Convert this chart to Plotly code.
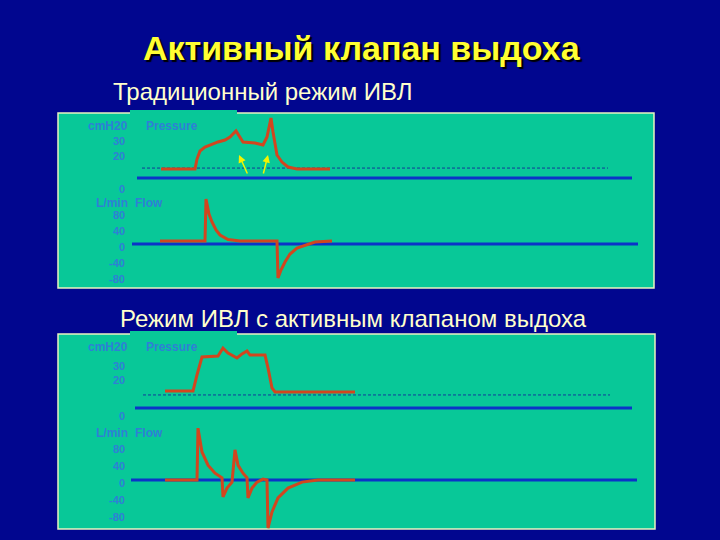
import plotly.graph_objects as go

W, H = 720, 540

# ---------------- data ----------------
# Panel 1: conventional ventilation
p1_t = [3.0, 6.4, 6.6, 6.9, 7.4, 8.1, 8.7, 9.4, 9.9, 10.5, 10.9, 11.2, 12.4, 13.2, 13.6, 14.0, 14.2, 14.6, 15.1, 15.7, 16.6, 19.9]
p1_v = [10.7, 10.7, 17.3, 22.7, 25.3, 27.3, 28.7, 30.0, 32.0, 36.0, 32.0, 28.7, 28.0, 26.7, 32.0, 44.7, 35.3, 20.0, 15.3, 12.0, 10.7, 10.7]
f1_t = [2.9, 7.4, 7.5, 7.8, 8.1, 8.5, 8.9, 9.7, 10.9, 14.6, 14.7, 15.0, 15.4, 15.9, 16.6, 17.4, 18.4, 20.1]
f1_v = [7.5, 7.5, 112.5, 75, 55, 35, 22.5, 11, 7.5, 7.5, -85, -65, -45, -25, -10, -2.5, 5, 7.5]

# Panel 2: ventilation with active exhalation valve
p2_t = [3.4, 6.2, 6.6, 7.1, 8.7, 9.2, 9.7, 10.6, 11.1, 11.6, 11.9, 12.4, 13.4, 13.7, 14.1, 14.4, 22.4]
p2_v = [11.4, 11.4, 22.9, 35.7, 36.4, 42.1, 38.6, 35.0, 37.9, 40.0, 37.1, 37.1, 37.1, 27.9, 13.6, 10.7, 10.7]
f2_t = [3.4, 6.6, 6.7, 7.1, 7.7, 8.4, 9.1, 9.2, 9.6, 10.1, 10.4, 10.7, 11.2, 11.6, 11.7, 12.1, 12.6, 13.2, 13.6, 13.7, 14.1, 14.7, 15.7, 17.1, 18.7, 22.4]
f2_v = [0, 0, 122, 66, 35, 16, 5, -40, -19, -5, 71, 35, 16, 5, -42, -19, -5, 2, 0, -113, -75, -42, -19, -5, 0, 0]

# reference lines (t-range, level)
p1_base_t, p1_base_v = [0.6, 50.1], 4.7
p1_dash_t, p1_dash_v = [1.1, 47.7], 11.3
f1_base_t, f1_base_v = [0.1, 50.7], 0
p2_base_t, p2_base_v = [0.4, 50.1], -0.7
p2_dash_t, p2_dash_v = [1.2, 47.9], 8.6
f2_base_t, f2_base_v = [0.0, 50.6], 0

# tick labels
p_ticks = [30, 20, 0]
f_ticks = [80, 40, 0, -40, -80]

title = "Активный клапан выдоха"
sub1 = "Традиционный режим ИВЛ"
sub2 = "Режим ИВЛ с активным клапаном выдоха"

# ---------------- style ----------------
NAVY = "#01068f"
TEAL = "#08c898"
RED = "#d2461e"
BLUE = "#0b34c8"
LBL = "#2f7fd6"
FONT = "Liberation Sans, Arial, sans-serif"

def px(x):
    return x / W

def py(y):
    return 1 - y / H

fig = go.Figure()

def add_line(t, v, xa, ya, color, width, dash="solid"):
    fig.add_trace(go.Scatter(x=t, y=v, xaxis=xa, yaxis=ya, mode="lines",
                             line=dict(color=color, width=width, dash=dash),
                             hoverinfo="skip", showlegend=False))

DASH = "3px,2px"
# reference lines first
add_line(p1_dash_t, [p1_dash_v] * 2, "x", "y", "#123a9a", 1, DASH)
add_line(p1_base_t, [p1_base_v] * 2, "x", "y", BLUE, 3)
add_line(f1_base_t, [f1_base_v] * 2, "x2", "y2", BLUE, 3)
add_line(p2_dash_t, [p2_dash_v] * 2, "x3", "y3", "#123a9a", 1, DASH)
add_line(p2_base_t, [p2_base_v] * 2, "x3", "y3", BLUE, 3)
add_line(f2_base_t, [f2_base_v] * 2, "x4", "y4", BLUE, 3)
# waveforms
add_line(p1_t, p1_v, "x", "y", RED, 3)
add_line(f1_t, f1_v, "x2", "y2", RED, 3)
add_line(p2_t, p2_v, "x3", "y3", RED, 3)
add_line(f2_t, f2_v, "x4", "y4", RED, 3)

xdom = [px(58), px(654)]
xr = [-7.3, 52.3]
ax_common = dict(visible=False, fixedrange=True)
layout_axes = dict(
    xaxis=dict(domain=xdom, range=xr, anchor="y", **ax_common),
    xaxis2=dict(domain=xdom, range=xr, anchor="y2", **ax_common),
    xaxis3=dict(domain=xdom, range=xr, anchor="y3", **ax_common),
    xaxis4=dict(domain=xdom, range=xr, anchor="y4", **ax_common),
    yaxis=dict(domain=[py(195), py(113)], range=[-6.667, 48], anchor="x", **ax_common),
    yaxis2=dict(domain=[py(288), py(196)], range=[-110, 120], anchor="x2", **ax_common),
    yaxis3=dict(domain=[py(420), py(334)], range=[-9.29, 52.14], anchor="x3", **ax_common),
    yaxis4=dict(domain=[py(529), py(421)], range=[-115.3, 138.8], anchor="x4", **ax_common),
)

shapes = []
for (x0, y0, x1, y1) in [(58, 113, 654, 288), (58, 334, 655, 529)]:
    shapes.append(dict(type="rect", xref="paper", yref="paper", layer="below",
                       x0=px(x0), x1=px(x1), y0=py(y1), y1=py(y0),
                       fillcolor=TEAL, line=dict(color="#e8f4c0", width=1.5)))
for (x0, y0, x1, y1) in [(130, 110, 237, 114), (130, 331, 237, 335)]:
    shapes.append(dict(type="rect", xref="paper", yref="paper", layer="below",
                       x0=px(x0), x1=px(x1), y0=py(y1), y1=py(y0),
                       fillcolor=TEAL, line=dict(width=0)))

ann = []
ann.append(dict(text=title, x=px(362), y=py(48), xref="paper", yref="paper",
                showarrow=False, xanchor="center", yanchor="middle",
                font=dict(family=FONT, size=34, color="#ffff33", weight="bold",
                          shadow="2px 2px 1px #000000")))
ann.append(dict(text=sub1, x=px(111), y=py(91), xref="paper", yref="paper",
                showarrow=False, xanchor="left", yanchor="middle",
                font=dict(family=FONT, size=24, color="#ffffcc")))
ann.append(dict(text=sub2, x=px(118), y=py(318), xref="paper", yref="paper",
                showarrow=False, xanchor="left", yanchor="middle",
                font=dict(family=FONT, size=24, color="#ffffcc")))

headfont = dict(family=FONT, size=12, color=LBL, weight="bold")
tickfont = dict(family=FONT, size=11, color=LBL, weight="bold")

def panel_labels(pya, fya, p_head_y, f_head_y, p0_shift):
    ann.append(dict(text="cmH20", x=px(129), y=py(p_head_y), xref="paper", yref="paper",
                    showarrow=False, xanchor="right", yanchor="middle", font=headfont,
                    borderpad=0))
    ann.append(dict(text="Pressure", x=px(145), y=py(p_head_y), xref="paper", yref="paper",
                    showarrow=False, xanchor="left", yanchor="middle", font=headfont,
                    borderpad=0))
    ann.append(dict(text="L/min", x=px(129), y=py(f_head_y), xref="paper", yref="paper",
                    showarrow=False, xanchor="right", yanchor="middle", font=headfont,
                    borderpad=0))
    ann.append(dict(text="Flow", x=px(134), y=py(f_head_y), xref="paper", yref="paper",
                    showarrow=False, xanchor="left", yanchor="middle", font=headfont,
                    borderpad=0))
    for v in p_ticks:
        ann.append(dict(text=str(v), x=px(126), y=v, xref="paper", yref=pya,
                        showarrow=False, xanchor="right", yanchor="middle",
                        yshift=(p0_shift if v == 0 else -1), font=tickfont, borderpad=0))
    for v in f_ticks:
        ann.append(dict(text=str(v), x=px(126), y=v, xref="paper", yref=fya,
                        showarrow=False, xanchor="right", yanchor="middle",
                        yshift=-3, font=tickfont, borderpad=0))

panel_labels("y", "y2", 126, 203, -4)
panel_labels("y3", "y4", 347, 433, -9)

# yellow arrows in panel 1
for (tx, ty, hx, hy) in [(11.7, 6.7, 10.8, 20.0), (13.2, 6.7, 13.7, 20.0)]:
    ann.append(dict(x=hx, y=hy, ax=tx, ay=ty, xref="x", yref="y", axref="x", ayref="y",
                    text="", showarrow=True, arrowhead=2, arrowsize=1, arrowwidth=1.5,
                    arrowcolor="#f4f400"))

fig.update_layout(width=W, height=H, margin=dict(l=0, r=0, t=0, b=0),
                  paper_bgcolor=NAVY, plot_bgcolor="rgba(0,0,0,0)",
                  shapes=shapes, annotations=ann, showlegend=False, **layout_axes)

fig.write_html("out.html", config={"displayModeBar": False},
               post_script="document.body.style.margin='0';document.body.style.background='#01068f';")
